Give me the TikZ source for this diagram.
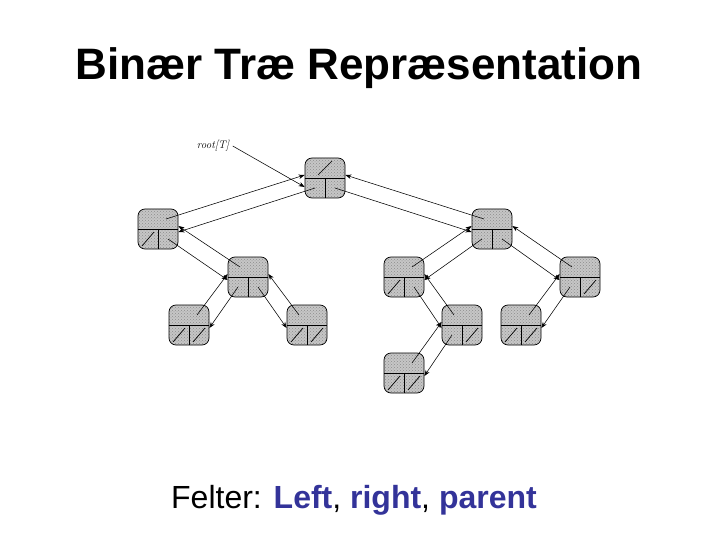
\documentclass[tikz,border=0pt]{standalone}
\usepackage{fontspec}
\newfontfamily\arial{Liberation Sans}
\usepackage{tikz}
\usetikzlibrary{arrows.meta,patterns}
\definecolor{fieldblue}{RGB}{51,51,153}

\begin{document}
\begin{tikzpicture}[
  x=1pt, y=-1pt,
  rec/.style={
    rectangle, rounded corners=7pt, draw, line width=0.7pt,
    minimum width=40pt, minimum height=40pt, inner sep=0pt,
    preaction={fill=gray!45}, pattern=crosshatch dots, pattern color=gray!90,
    path picture={
      \draw[line width=0.7pt] (path picture bounding box.west) -- (path picture bounding box.east)
        (path picture bounding box.center) -- (path picture bounding box.south);}},
  nilline/.style={draw, line width=0.7pt},
  nilp/.style={append after command={
    ([shift={(-7,-3)}]\tikzlastnode.center) edge[nilline] ([shift={(7,-17)}]\tikzlastnode.center)}},
  nill/.style={append after command={
    ([shift={(-16,17)}]\tikzlastnode.center) edge[nilline] ([shift={(-4,3)}]\tikzlastnode.center)}},
  nilr/.style={append after command={
    ([shift={(4,17)}]\tikzlastnode.center) edge[nilline] ([shift={(16,3)}]\tikzlastnode.center)}},
  ptr/.style={-{Stealth[length=6pt,width=4.5pt]}, line width=0.55pt},
]
  \useasboundingbox (0,0) rectangle (720,540);

  \node[font=\arial\bfseries\fontsize{44}{50}\selectfont] (title) at (359,68)
      {Binær Træ Repræsentation};

  % tree nodes: top = parent, bottom = left | right
  \node[rec, nilp]        (root) at (325,178) {};
  \node[rec, nill]        (L)    at (158,229) {};
  \node[rec]              (R)    at (492,229) {};
  \node[rec]              (LR)   at (248,277) {};
  \node[rec, nill]        (RL)   at (404,277) {};
  \node[rec, nilr]        (RR)   at (580,277) {};
  \node[rec, nill, nilr]  (LRL)  at (189,325) {};
  \node[rec, nill, nilr]  (LRR)  at (307,325) {};
  \node[rec, nilr]        (RLR)  at (462,325) {};
  \node[rec, nill, nilr]  (RRL)  at (521,325) {};
  \node[rec, nill, nilr]  (RLRL) at (404,373) {};

  \node[font=\itshape\fontsize{11}{13}\selectfont] (lbl) at (213,146) {root[T]};
  \draw[ptr] (lbl.east) -- ([yshift=-9]root.west);

  % left pointers and parent pointers
  \draw[ptr] ([shift={(-10,10)}]root.center) -- ([yshift=-3]L.east);
  \draw[ptr] ([shift={(8,-10)}]L.center)     -- ([yshift=3]root.west);
  \draw[ptr] ([shift={(-10,10)}]R.center)    -- ([yshift=-3]RL.east);
  \draw[ptr] ([shift={(8,-10)}]RL.center)    -- ([yshift=3]R.west);
  \draw[ptr] ([shift={(-10,10)}]LR.center)   -- ([yshift=-3]LRL.east);
  \draw[ptr] ([shift={(8,-10)}]LRL.center)   -- ([yshift=3]LR.west);
  \draw[ptr] ([shift={(-10,10)}]RR.center)   -- ([yshift=-3]RRL.east);
  \draw[ptr] ([shift={(8,-10)}]RRL.center)   -- ([yshift=3]RR.west);
  \draw[ptr] ([shift={(-10,10)}]RLR.center)  -- ([yshift=-3]RLRL.east);
  \draw[ptr] ([shift={(8,-10)}]RLRL.center)  -- ([yshift=3]RLR.west);

  % right pointers and parent pointers
  \draw[ptr] ([shift={(10,10)}]root.center)  -- ([yshift=-3]R.west);
  \draw[ptr] ([shift={(-8,-10)}]R.center)    -- ([yshift=3]root.east);
  \draw[ptr] ([shift={(10,10)}]L.center)     -- ([yshift=-3]LR.west);
  \draw[ptr] ([shift={(-8,-10)}]LR.center)   -- ([yshift=3]L.east);
  \draw[ptr] ([shift={(10,10)}]R.center)     -- ([yshift=-3]RR.west);
  \draw[ptr] ([shift={(-8,-10)}]RR.center)   -- ([yshift=3]R.east);
  \draw[ptr] ([shift={(10,10)}]LR.center)    -- ([yshift=-3]LRR.west);
  \draw[ptr] ([shift={(-8,-10)}]LRR.center)  -- ([yshift=3]LR.east);
  \draw[ptr] ([shift={(10,10)}]RL.center)    -- ([yshift=-3]RLR.west);
  \draw[ptr] ([shift={(-8,-10)}]RLR.center)  -- ([yshift=3]RL.east);

  \node[font=\arial\fontsize{32}{38}\selectfont] (fields) at (354,500)
      {Felter: \textcolor{fieldblue}{\bfseries Left}, \textcolor{fieldblue}{\bfseries right},
       \textcolor{fieldblue}{\bfseries parent}};
\end{tikzpicture}
\end{document}
